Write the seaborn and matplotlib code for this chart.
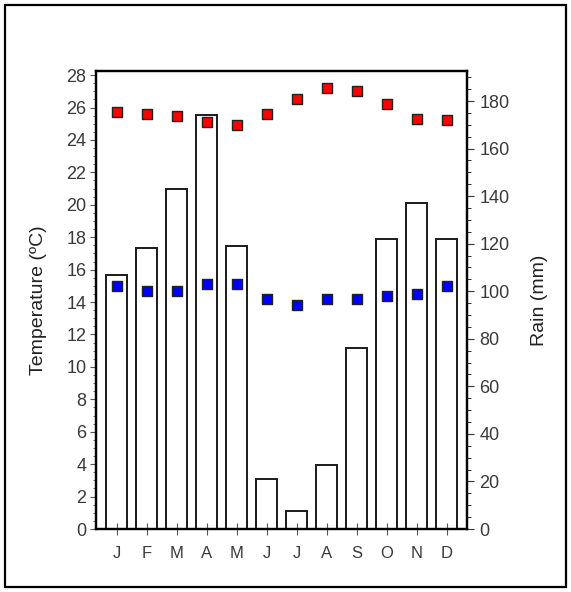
import matplotlib
matplotlib.use("Agg")
import matplotlib.pyplot as plt
from matplotlib.patches import Rectangle
from matplotlib.ticker import MultipleLocator
import seaborn as sns
import pandas as pd

# monthly climate values
month_idx = list(range(12))
month_labels = ['J', 'F', 'M', 'A', 'M', 'J', 'J', 'A', 'S', 'O', 'N', 'D']
rain_mm = [107, 118, 143, 174, 119, 21, 7.5, 27, 76, 122, 137, 122]
temp_max = [25.7, 25.6, 25.5, 25.1, 24.9, 25.6, 26.5, 27.2, 27.0, 26.2, 25.3, 25.2]
temp_min = [15.0, 14.7, 14.7, 15.1, 15.1, 14.2, 13.8, 14.2, 14.2, 14.4, 14.5, 15.0]

df = pd.DataFrame({"month": month_idx, "rain": rain_mm, "tmax": temp_max, "tmin": temp_min})

sns.set_style("ticks")
plt.rcParams['font.family'] = ['Liberation Sans', 'DejaVu Sans']
txt = '#3a3a3a'

fig = plt.figure(figsize=(5.71, 5.92), dpi=100)
ax = fig.add_axes([0.1681, 0.1064, 0.6497, 0.7736])
ax2 = ax.twinx()

# rain bars on the right axis
sns.barplot(data=df, x="month", y="rain", ax=ax2, color="white", edgecolor="#1a1a1a",
            linewidth=1.4, width=0.7, saturation=1)

# temperature markers on the left axis, drawn above the bars
ax.set_zorder(ax2.get_zorder() + 1)
ax.patch.set_visible(False)
sns.scatterplot(data=df, x="month", y="tmax", ax=ax, marker="s", color="#ff0000",
                edgecolor="#222222", linewidth=1.0, s=42, zorder=5)
sns.scatterplot(data=df, x="month", y="tmin", ax=ax, marker="s", color="#0000ff",
                edgecolor="#222222", linewidth=1.0, s=42, zorder=5)

ax.set_xlim(-0.7, 11.67)
ax2.set_xlim(-0.7, 11.67)
ax.set_ylim(0, 28.25)
ax2.set_ylim(0, 192.6)

ax.set_xticks(month_idx)
ax.set_xticklabels(month_labels)
ax.yaxis.set_major_locator(MultipleLocator(2))
ax.yaxis.set_minor_locator(MultipleLocator(0.5))
ax2.yaxis.set_major_locator(MultipleLocator(20))
ax2.yaxis.set_minor_locator(MultipleLocator(5))

ax.tick_params(axis='x', direction='inout', length=8, width=0.8, color='#555555',
               labelsize=12, labelcolor=txt, pad=8)
ax.tick_params(axis='y', which='major', direction='out', length=4, width=0.8,
               color='#555555', labelsize=13, labelcolor=txt, pad=3)
ax.tick_params(axis='y', which='minor', direction='out', length=2, width=0.6, color='#555555')
ax2.tick_params(axis='y', which='major', direction='out', length=5, width=0.8,
                color='#333333', labelsize=13, labelcolor=txt, pad=4)
ax2.tick_params(axis='y', which='minor', direction='out', length=3, width=0.7, color='#333333')
ax2.tick_params(axis='x', bottom=False, labelbottom=False)

for a in (ax, ax2):
    for sp in a.spines.values():
        sp.set_visible(True)
        sp.set_linewidth(1.6)
        sp.set_color('black')

ax.set_xlabel("")
ax2.set_xlabel("")
ax.set_ylabel("Temperature (ºC)", fontsize=14, color='#222222')
ax2.set_ylabel("Rain (mm)", fontsize=14, color='#222222')
ax.yaxis.set_label_coords(-0.133, 0.5)
ax2.yaxis.set_label_coords(1.172, 0.5)

# outer frame around the whole figure
fig.add_artist(Rectangle((5 / 571, 5 / 592), 561 / 571, 582 / 592, transform=fig.transFigure,
                         fill=False, edgecolor='black', linewidth=1.6))

fig.savefig("out.png", dpi=100)
